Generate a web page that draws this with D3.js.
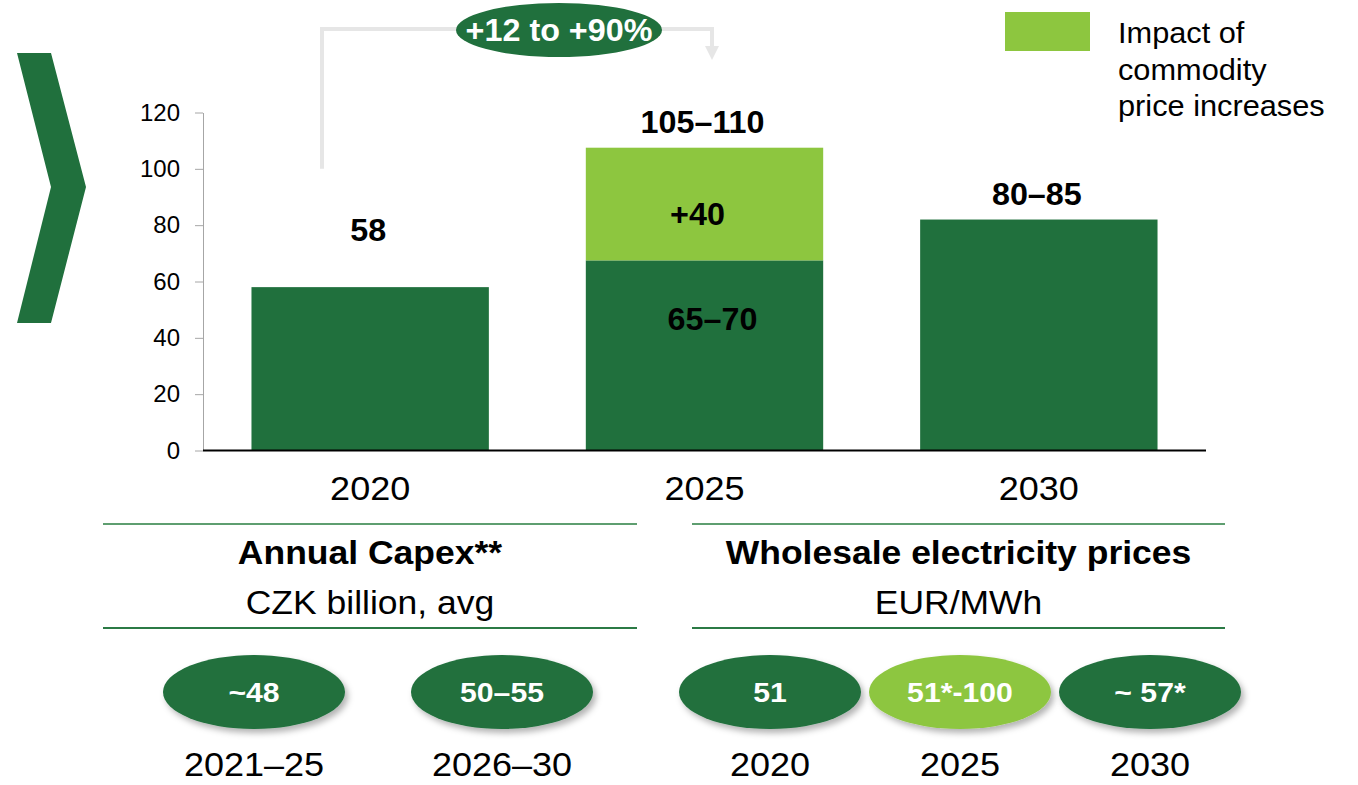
<!DOCTYPE html>
<meta charset="utf-8">
<style>
body { margin: 0; background: #fff; }
svg text { font-family: "Liberation Sans", Arial, sans-serif; }
.axis path { stroke: #a6a6a6; }
.axis line { stroke: #a6a6a6; }
</style>
<body>
<svg width="1358" height="785"></svg>
<script src="https://d3js.org/d3.v7.min.js"></script>
<script>

// chart data
var years = ["2020", "2025", "2030"];
var baseValues = [58, 67.5, 82];
var commodityValues = [0, 40, 0];
var totalLabels = ["58", "105–110", "80–85"];
var baseLabels = ["", "65–70", ""];
var commodityLabels = ["", "+40", ""];
var yTicks = [0, 20, 40, 60, 80, 100, 120];

// bottom panels
var capexPeriods = ["2021–25", "2026–30"];
var capexValues = ["~48", "50–55"];
var priceYears = ["2020", "2025", "2030"];
var priceValues = ["51", "51*-100", "~ 57*"];

var dark = "#20703d",
    light = "#8dc63f",
    SX = 1.06;

var svg = d3.select("svg");

var defs = svg.append("defs");
var f = defs.append("filter").attr("id", "shadow")
    .attr("x", "-20%").attr("y", "-20%").attr("width", "150%").attr("height", "160%");
f.append("feDropShadow").attr("dx", 3).attr("dy", 4).attr("stdDeviation", 3)
    .attr("flood-color", "#000").attr("flood-opacity", 0.3);

function txt(x, y, s, size, weight, fill) {
  return svg.append("text")
      .attr("transform", "translate(" + x + "," + y + ") scale(" + SX + ",1)")
      .attr("text-anchor", "middle")
      .attr("font-size", size)
      .attr("font-weight", weight || "normal")
      .attr("fill", fill || "#000")
      .text(s);
}

// chevron
svg.append("path")
    .attr("d", "M17,53 L51,53 L86,187 L51,323 L17,323 L51,187 Z")
    .attr("fill", dark);

var x = d3.scaleBand().domain(years).range([203, 1206]).paddingInner(0.29).paddingOuter(0.145);
var y = d3.scaleLinear().domain([0, 120]).range([450.5, 112.5]);

var axis = svg.append("g")
    .attr("class", "axis")
    .attr("transform", "translate(203,0)")
    .call(d3.axisLeft(y).tickValues(yTicks).tickSize(8).tickSizeOuter(0).tickPadding(15));
axis.selectAll("text")
    .attr("font-size", 24)
    .attr("fill", "#000")
    .attr("font-family", "Liberation Sans, Arial, sans-serif");

// bars
svg.selectAll(".base").data(years).enter().append("rect")
    .attr("x", function(d) { return x(d); })
    .attr("width", x.bandwidth())
    .attr("y", function(d, i) { return y(baseValues[i]); })
    .attr("height", function(d, i) { return y(0) - y(baseValues[i]); })
    .attr("fill", dark);

svg.selectAll(".comm").data(years).enter().append("rect")
    .attr("x", function(d) { return x(d); })
    .attr("width", x.bandwidth())
    .attr("y", function(d, i) { return y(baseValues[i] + commodityValues[i]); })
    .attr("height", function(d, i) { return y(0) - y(commodityValues[i]); })
    .attr("fill", light);

// baseline
svg.append("line")
    .attr("x1", 203).attr("x2", 1206)
    .attr("y1", y(0)).attr("y2", y(0))
    .attr("stroke", "#000").attr("stroke-width", 2);

years.forEach(function(d, i) {
  var cx = x(d) + x.bandwidth() / 2;
  var top = baseValues[i] + commodityValues[i];
  txt(cx - 2, y(top) - (i == 0 ? 46 : 15), totalLabels[i], 30.5, "bold");
  if (baseLabels[i]) txt(cx + 8, y(baseValues[i]) + 70, baseLabels[i], 30.5, "bold");
  if (commodityLabels[i]) txt(cx - 7, y(baseValues[i] + commodityValues[i] / 2) + 21, commodityLabels[i], 30.5, "bold");
  txt(cx, 500, d, 34);
});

// growth arrow
var x0 = 322, x1 = 712, ya = 29;
svg.append("path")
    .attr("d", "M" + x0 + "," + y(100) + " L" + x0 + "," + ya + " L" + x1 + "," + ya + " L" + x1 + "," + 48)
    .attr("fill", "none").attr("stroke", "#e6e6e6").attr("stroke-width", 4);
svg.append("path")
    .attr("d", "M" + (x1 - 7) + ",46 L" + (x1 + 7) + ",46 L" + x1 + ",60 Z")
    .attr("fill", "#e6e6e6");
svg.append("ellipse")
    .attr("cx", 559).attr("cy", 30).attr("rx", 103).attr("ry", 27)
    .attr("fill", dark);
txt(559, 41, "+12 to +90%", 30.5, "bold", "#fff");

// legend
svg.append("rect").attr("x", 1005).attr("y", 12).attr("width", 85).attr("height", 39).attr("fill", light);
["Impact of", "commodity", "price increases"].forEach(function(s, i) {
  txt(1118, 43 + i * 36.5, s, 29).attr("text-anchor", "start");
});

// bottom panels
function panel(x1, x2, title, unit) {
  svg.append("line").attr("x1", x1).attr("x2", x2).attr("y1", 524).attr("y2", 524)
      .attr("stroke", "#5e9e70").attr("stroke-width", 2);
  svg.append("line").attr("x1", x1).attr("x2", x2).attr("y1", 628).attr("y2", 628)
      .attr("stroke", "#2b7a45").attr("stroke-width", 2);
  var cx = (x1 + x2) / 2;
  txt(cx, 564, title, 33.5, "bold");
  txt(cx, 614, unit, 33.5);
}
panel(103, 637, "Annual Capex**", "CZK billion, avg");
panel(692, 1225, "Wholesale electricity prices", "EUR/MWh");

function bubbles(domain, labels, range, fills) {
  var p = d3.scalePoint().domain(domain).range(range);
  domain.forEach(function(d, i) {
    svg.append("ellipse")
        .attr("cx", p(d)).attr("cy", 692).attr("rx", 91).attr("ry", 37)
        .attr("fill", fills[i]).attr("filter", "url(#shadow)");
    txt(p(d), 702, labels[i], 28.5, "bold", "#fff");
    txt(p(d), 776, d, 34);
  });
}
bubbles(capexPeriods, capexValues, [254, 502], [dark, dark]);
bubbles(priceYears, priceValues, [770, 1150], [dark, light, dark]);

</script>
</body>
